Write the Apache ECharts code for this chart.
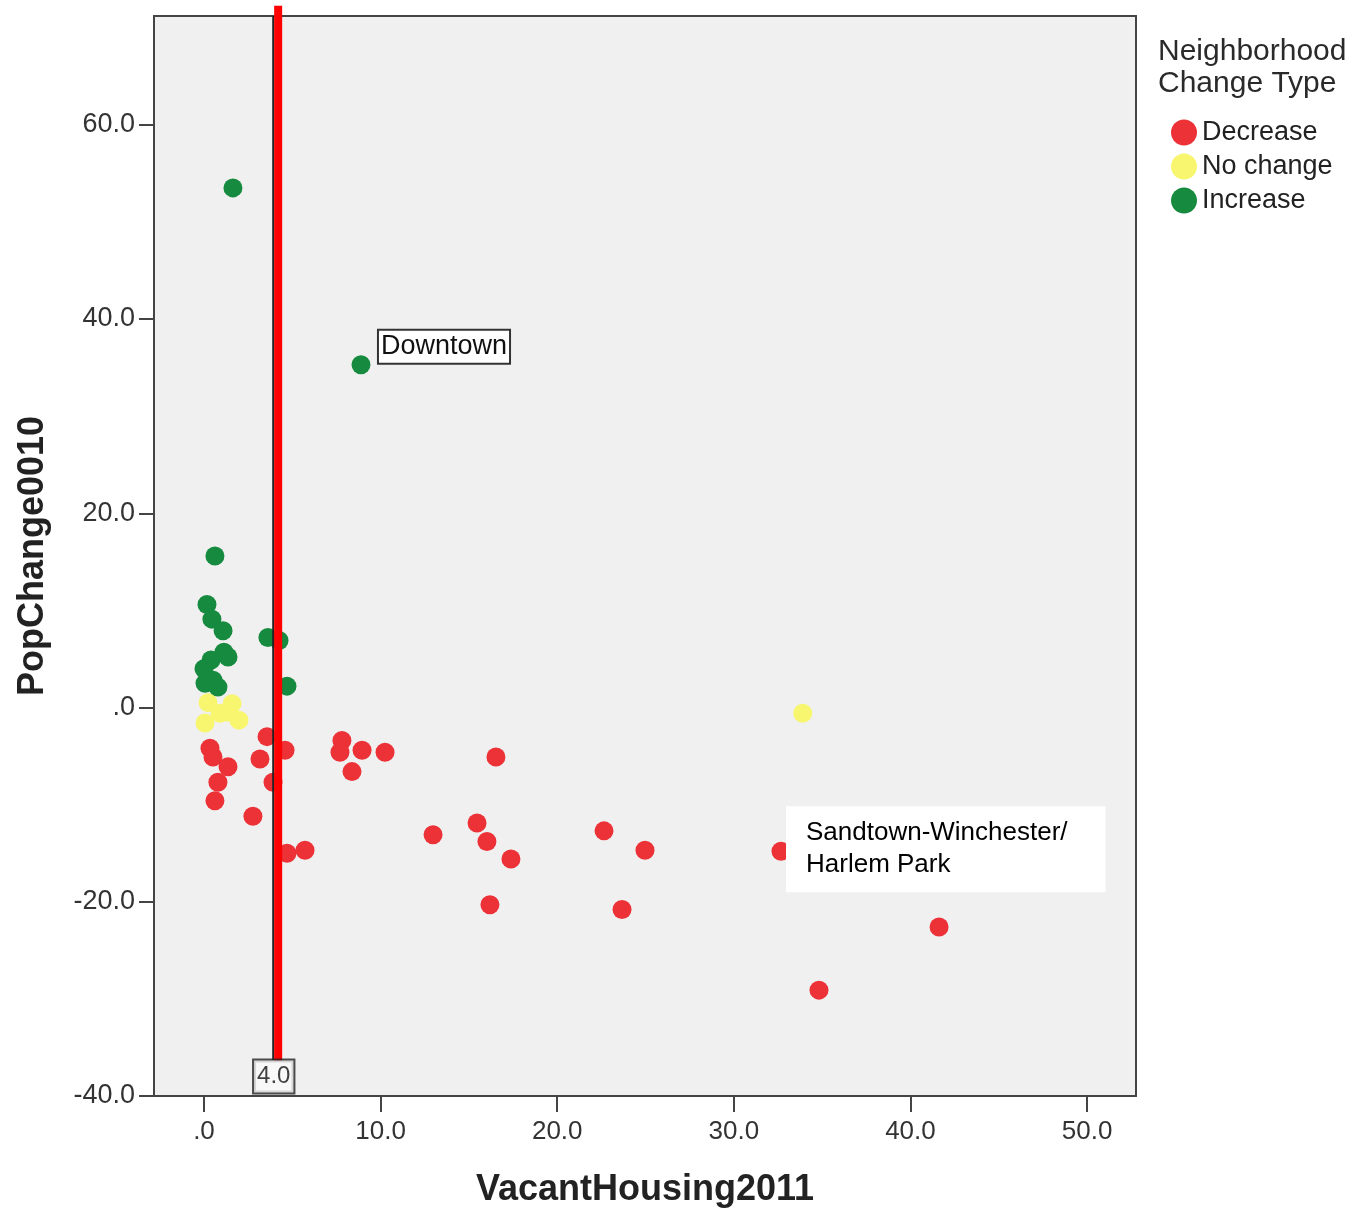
<!DOCTYPE html>
<html>
<head>
<meta charset="utf-8">
<style>html,body{margin:0;padding:0;background:#fff;}#c{width:1355px;height:1208px;}</style>
<script src="https://cdn.jsdelivr.net/npm/echarts@6/dist/echarts.min.js"></script>
</head>
<body>
<div id="c"></div>
<script>
// ---- data ----
const decreaseX = [0.34, 0.51, 1.36, 0.79, 0.62, 2.77, 3.17, 3.57, 4.59, 3.91, 4.70, 5.72, 7.81, 7.70, 8.95, 10.25, 8.38, 16.53, 12.97, 15.46, 16.02, 17.38, 16.19, 22.65, 24.97, 23.67, 32.67, 34.82, 41.62];
const decreaseY = [-4.2, -5.1, -6.1, -7.7, -9.6, -11.2, -5.3, -3.0, -4.4, -7.7, -15.0, -14.7, -3.4, -4.6, -4.4, -4.6, -6.6, -5.1, -13.1, -11.9, -13.8, -15.6, -20.3, -12.7, -14.7, -20.8, -14.8, -29.1, -22.6];
const decreaseNames = {26: 'Sandtown-Winchester/\nHarlem Park'};

const noChangeX = [0.23, 1.59, 0.06, 1.98, 0.91, 1.36, 33.9];
const noChangeY = [0.5, 0.4, -1.6, -1.3, -0.6, -0.5, -0.6];

const increaseX = [1.64, 8.89, 0.62, 0.17, 0.45, 1.08, 1.13, 1.36, 0.40, 0.00, 0.06, 0.51, 0.79, 3.62, 4.25, 4.70];
const increaseY = [53.5, 35.3, 15.6, 10.6, 9.1, 7.9, 5.7, 5.2, 4.9, 4.0, 2.5, 2.8, 2.1, 7.2, 6.9, 2.2];
const increaseNames = {1: 'Downtown'};

const xTicks = [0, 10, 20, 30, 40, 50];
const yTicks = [-40, -20, 0, 20, 40, 60];
const xRange = [-2.83, 52.77];
const yRange = [-40, 71.2];

const refLineX = 3.92;       // SPSS reference line (labelled 4.0)
const refLabel = '4.0';
const redLineX = 4.2;        // hand-drawn red marker line
const redLineY = [72.25, -36.4];
const refLineY = [-36.3, 71.2];
const refLabelY = -38.0;

const seriesNames = ['Decrease', 'No change', 'Increase'];
const colors = ['#ec3137', '#f8f66f', '#168a3f'];

// ---- build ----
const FONT = 'Liberation Sans, Arial, Helvetica, sans-serif';
function fmt(v) {
  let s = Math.abs(v).toFixed(1);
  if (s.startsWith('0.')) s = s.slice(1);
  return (v < 0 ? '-' : '') + s;
}
function pts(xs, ys) { return xs.map((x, i) => [x, ys[i]]); }

const downtownLabel = {
  show: true, position: 'inside', offset: [83, -18],
  fontFamily: FONT, fontSize: 27, color: '#111',
  backgroundColor: '#fff', borderColor: '#333', borderWidth: 2,
  padding: [2, 2, 0, 2], lineHeight: 30
};
const sandtownLabel = {
  show: true, position: 'inside', offset: [5, -2], align: 'left', verticalAlign: 'middle',
  fontFamily: FONT, fontSize: 26, color: '#000',
  backgroundColor: '#fff', padding: [11, 38, 11, 20], lineHeight: 32
};

function buildData(xs, ys, names, labelStyle) {
  return pts(xs, ys).map((p, i) => {
    if (names[i]) return { name: names[i], value: p, label: Object.assign({}, labelStyle, {formatter: names[i]}) };
    return { value: p };
  });
}

function scatterSeries(idx, data) {
  return {
    name: seriesNames[idx], type: 'scatter', symbol: 'circle', symbolSize: 19,
    itemStyle: { color: colors[idx], opacity: 1 }, z: 3,
    emphasis: { disabled: true },
    data: data
  };
}

const option = {
  animation: false,
  backgroundColor: '#fff',
  title: {
    text: 'Neighborhood\nChange Type',
    left: 1153, top: 31,
    textStyle: { fontFamily: FONT, fontSize: 30, fontWeight: 'normal', color: '#2a2a2a', lineHeight: 32 }
  },
  legend: {
    data: seriesNames,
    orient: 'vertical', left: 1166, top: 114,
    icon: 'circle', itemWidth: 26, itemHeight: 26, itemGap: 7,
    itemStyle: { opacity: 1 },
    textStyle: { fontFamily: FONT, fontSize: 27, color: '#222' }
  },
  grid: {
    left: 154, right: 219, top: 16, bottom: 112,
    show: true, backgroundColor: '#f0f0f0', borderColor: '#444', borderWidth: 2,
    containLabel: false, outerBoundsMode: 'none'
  },
  xAxis: {
    type: 'value', min: xRange[0], max: xRange[1],
    name: 'VacantHousing2011', nameLocation: 'middle', nameGap: 76,
    nameTextStyle: { fontFamily: FONT, fontSize: 36, fontWeight: 'bold', color: '#222' },
    axisLine: { show: false, onZero: false },
    splitLine: { show: false },
    axisTick: { show: true, length: 16, customValues: xTicks, lineStyle: { color: '#444', width: 2 } },
    axisLabel: { customValues: xTicks, formatter: fmt, margin: 23, fontFamily: FONT, fontSize: 26, color: '#333' }
  },
  yAxis: {
    type: 'value', min: yRange[0], max: yRange[1],
    name: 'PopChange0010', nameLocation: 'middle', nameGap: 103,
    nameTextStyle: { fontFamily: FONT, fontSize: 36, fontWeight: 'bold', color: '#222' },
    axisLine: { show: false, onZero: false },
    splitLine: { show: false },
    axisTick: { show: true, length: 15, customValues: yTicks, lineStyle: { color: '#444', width: 2 } },
    axisLabel: { customValues: yTicks, formatter: fmt, margin: 19, padding: [7, 0, 0, 0], fontFamily: FONT, fontSize: 27, color: '#333' }
  },
  series: [
    scatterSeries(0, buildData(decreaseX, decreaseY, decreaseNames, sandtownLabel)),
    scatterSeries(1, buildData(noChangeX, noChangeY, {}, null)),
    scatterSeries(2, buildData(increaseX, increaseY, increaseNames, downtownLabel)),
    {
      name: 'refline', type: 'line', silent: true, symbol: 'none', z: 4,
      lineStyle: { color: '#222', width: 2 },
      data: [[refLineX, refLineY[0]], [refLineX, refLineY[1]]]
    },
    {
      name: 'redline', type: 'line', silent: true, symbol: 'none', z: 6, clip: false,
      lineStyle: { color: '#ff0000', width: 8, cap: 'butt' },
      data: [[redLineX, redLineY[0]], [redLineX, redLineY[1]]]
    },
    {
      name: 'reflabel', type: 'scatter', silent: true, symbolSize: 1, z: 7,
      itemStyle: { color: 'rgba(0,0,0,0)' },
      label: {
        show: true, position: 'inside', formatter: refLabel,
        fontFamily: FONT, fontSize: 24, color: '#111', lineHeight: 28,
        backgroundColor: '#fafafa', borderColor: '#222', borderWidth: 2, padding: [3, 3, 1, 3]
      },
      data: [[3.95, refLabelY]]
    }
  ]
};
const chart = echarts.init(document.getElementById('c'), null, { renderer: 'canvas' });
chart.setOption(option);
</script>
</body>
</html>
